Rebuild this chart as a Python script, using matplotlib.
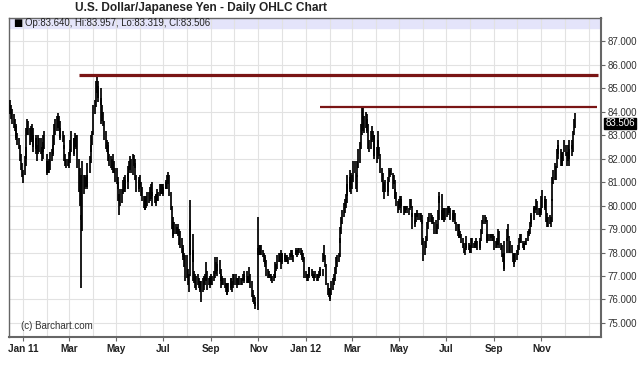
import numpy as np
import pandas as pd
import matplotlib
matplotlib.use("Agg")
import matplotlib.pyplot as plt
import matplotlib.dates as mdates
import matplotlib.transforms as mtransforms

plt.rcParams['font.family'] = ['Liberation Sans', 'DejaVu Sans']

# trading days shown on the chart
start_day = '2010-12-15'
end_day = '2012-12-14'

# daily lows, one line per month (Dec 2010 .. Dec 2012)
lows = [
    83.90, 83.70, 83.50, 83.30, 83.20, 82.90, 82.80, 82.60, 82.40, 81.90, 81.50, 81.20, 80.95,
    81.30, 81.70, 82.00, 83.00, 83.00, 82.60, 82.70, 82.80, 82.50, 82.30, 82.40, 82.20, 81.90, 82.20, 82.30, 82.20, 81.90, 82.00, 82.30, 82.40, 81.40,
    81.30, 81.40, 81.40, 81.50, 81.90, 82.10, 82.20, 82.60, 83.00, 83.20, 83.30, 83.20, 82.90, 82.80, 82.70, 82.40, 81.90, 81.70, 81.60, 81.70,
    81.60, 81.80, 82.10, 82.30, 82.10, 82.20, 82.50, 82.40, 81.60, 80.60, 80.00, 79.40, 76.50, 78.90, 80.50, 80.70, 80.80, 80.70, 80.80, 81.40, 81.80, 82.30, 82.60,
    83.00, 83.90, 84.20, 84.80, 84.60, 84.40, 84.30, 83.50, 83.60, 83.40, 82.80, 82.40, 82.30, 82.20, 81.90, 81.70, 81.60, 81.50, 81.40, 81.40, 81.00,
    80.90, 80.70, 80.20, 79.60, 80.00, 80.10, 80.50, 80.60, 80.70, 80.60, 80.70, 81.00, 81.40, 81.50, 81.40, 81.30, 81.70, 81.60, 81.10, 80.60, 80.70, 80.60,
    80.80, 80.40, 80.20, 79.90, 79.80, 79.80, 79.90, 80.00, 80.10, 80.20, 80.30, 80.40, 80.00, 80.10, 80.10, 80.00, 80.20, 80.20, 80.40, 80.50, 80.50, 80.40,
    80.50, 80.70, 80.70, 80.70, 80.90, 80.40, 79.80, 79.00, 78.70, 78.60, 78.80, 78.80, 78.80, 78.70, 78.30, 78.20, 78.00, 77.80, 77.70, 77.40, 76.80,
    76.90, 76.60, 76.30, 77.00, 77.90, 77.60, 76.80, 76.70, 76.50, 76.40, 76.60, 76.50, 76.40, 76.30, 75.90, 76.30, 76.40, 76.60, 76.80, 76.40, 76.60, 76.50, 76.60,
    76.60, 76.60, 76.80, 76.90, 77.10, 77.00, 77.20, 77.10, 76.80, 76.50, 76.60, 76.60, 76.50, 76.30, 76.20, 76.20, 76.30, 76.40, 76.50, 76.30, 76.50, 76.60,
    76.60, 76.50, 76.60, 76.60, 76.60, 76.60, 76.60, 76.80, 76.80, 76.70, 76.70, 76.70, 76.70, 76.70, 76.50, 76.10, 75.90, 75.80, 75.70, 75.60, 75.56,
    77.90, 77.90, 77.90, 77.90, 77.80, 77.60, 77.40, 77.50, 77.00, 76.90, 76.90, 76.90, 76.80, 76.70, 76.80, 76.90, 76.90, 77.20, 77.30, 77.60, 77.60, 77.30,
    77.50, 77.60, 77.70, 77.60, 77.60, 77.60, 77.50, 77.70, 77.80, 77.80, 77.70, 77.60, 77.90, 77.90, 77.80, 77.90, 78.00, 77.90, 77.80, 77.70, 77.60, 76.90,
    76.90, 76.80, 76.80, 76.90, 77.00, 77.00, 76.90, 76.90, 76.80, 76.90, 76.80, 76.80, 76.90, 77.00, 77.00, 77.00, 77.60, 77.70, 77.40, 76.60, 76.20, 76.10,
    75.95, 76.00, 76.20, 76.40, 76.60, 76.80, 77.10, 77.40, 77.60, 77.80, 78.40, 78.80, 79.20, 79.50, 79.70, 79.90, 80.10, 80.40, 80.70, 80.60, 80.50,
    80.70, 81.00, 81.40, 80.70, 80.60, 81.20, 81.60, 81.80, 82.40, 83.00, 83.20, 83.10, 83.30, 83.20, 83.10, 82.40, 82.30, 82.40, 82.70, 82.80, 82.10, 82.00,
    81.80, 82.00, 82.20, 82.10, 81.40, 81.00, 80.60, 80.30, 80.70, 80.60, 80.40, 80.60, 81.00, 81.20, 81.30, 80.70, 80.90, 80.30, 80.30, 80.00, 79.70,
    79.80, 79.90, 80.00, 79.70, 79.60, 79.70, 79.70, 79.80, 79.70, 79.60, 79.80, 79.90, 79.50, 79.00, 79.10, 79.20, 79.30, 79.50, 79.40, 79.40, 79.30, 79.20, 78.30,
    77.65, 77.90, 78.20, 78.50, 79.00, 79.30, 79.30, 79.30, 79.20, 79.20, 78.80, 78.80, 78.80, 79.00, 79.40, 80.10, 79.40, 79.40, 79.40, 79.30, 79.40,
    79.50, 79.60, 79.70, 79.70, 79.40, 79.40, 79.30, 79.40, 79.20, 78.90, 78.70, 78.60, 78.60, 78.60, 78.40, 78.20, 78.00, 77.90, 78.10, 78.20, 78.10, 78.00,
    78.00, 78.00, 78.20, 78.20, 78.20, 78.30, 78.20, 78.10, 78.10, 78.20, 78.50, 78.80, 79.20, 79.20, 79.30, 78.50, 78.40, 78.50, 78.50, 78.60, 78.50, 78.50, 78.10,
    78.20, 78.20, 78.30, 78.30, 78.20, 78.10, 77.80, 77.60, 77.20, 77.30, 78.00, 78.50, 78.60, 78.00, 78.00, 78.00, 77.60, 77.40, 77.50, 77.60,
    77.70, 77.90, 78.10, 78.40, 78.40, 78.20, 78.10, 78.10, 78.30, 78.30, 78.50, 78.70, 78.80, 79.10, 79.20, 79.40, 79.70, 79.70, 79.80, 79.60, 79.60, 79.50, 79.60,
    79.70, 79.90, 79.80, 79.90, 79.30, 79.10, 79.10, 79.20, 79.10, 79.30, 80.20, 80.90, 81.10, 81.10, 81.60, 82.20, 82.00, 81.70, 81.70, 81.70, 81.90, 82.30,
    82.10, 81.70, 81.90, 81.70, 82.00, 82.10, 82.40, 82.30, 83.00, 83.319,
]

# daily highs, same layout
highs = [
    84.50, 84.30, 84.10, 83.90, 83.70, 83.50, 83.40, 83.10, 82.90, 82.60, 82.20, 81.80, 81.50,
    82.10, 82.50, 83.30, 83.70, 83.60, 83.30, 83.40, 83.50, 83.30, 83.00, 83.00, 82.90, 82.60, 83.00, 82.90, 82.90, 82.50, 82.70, 83.00, 83.20, 82.20,
    81.90, 81.90, 82.00, 82.30, 82.40, 82.60, 83.00, 83.50, 83.70, 83.80, 83.95, 83.80, 83.60, 83.30, 83.20, 83.00, 82.60, 82.20, 82.00, 82.00,
    82.30, 82.40, 82.80, 83.20, 82.90, 82.90, 83.10, 83.00, 83.00, 82.00, 81.60, 81.30, 79.60, 81.90, 81.30, 81.30, 81.20, 81.30, 81.80, 82.10, 82.60, 83.00, 83.20,
    84.30, 84.50, 85.30, 85.55, 85.30, 85.10, 85.00, 84.60, 84.30, 84.00, 83.60, 83.20, 82.80, 82.70, 82.60, 82.20, 82.10, 82.00, 82.20, 81.90, 81.60,
    81.60, 81.20, 81.00, 80.50, 80.70, 80.70, 81.10, 81.20, 81.30, 81.10, 81.40, 81.70, 81.90, 82.10, 82.00, 82.20, 82.15, 82.00, 81.80, 81.30, 81.10, 81.20,
    81.30, 81.00, 80.80, 80.40, 80.30, 80.40, 80.40, 80.60, 80.60, 80.80, 80.90, 81.00, 80.60, 80.40, 80.50, 80.50, 80.70, 80.60, 80.90, 80.90, 80.90, 80.80,
    80.90, 81.00, 81.10, 81.30, 81.45, 81.30, 80.60, 80.00, 79.50, 79.30, 79.30, 79.20, 79.10, 79.20, 79.00, 78.90, 78.60, 78.30, 78.20, 78.00, 77.90,
    77.90, 77.30, 77.10, 80.24, 79.40, 78.80, 78.10, 77.20, 77.10, 77.00, 77.10, 76.90, 76.80, 76.80, 76.80, 76.90, 77.00, 77.10, 77.60, 77.20, 76.90, 77.00, 76.90,
    77.10, 77.00, 77.20, 77.80, 77.60, 77.50, 77.80, 77.70, 77.30, 77.10, 77.00, 76.90, 76.90, 76.70, 76.70, 76.70, 76.70, 76.90, 76.90, 76.80, 77.10, 77.10,
    77.10, 76.90, 76.90, 76.90, 77.00, 76.90, 76.90, 77.10, 77.10, 77.20, 77.20, 77.00, 77.00, 77.40, 77.10, 76.80, 76.40, 76.20, 76.10, 75.90, 79.53,
    78.20, 78.30, 78.30, 78.30, 78.10, 78.00, 77.90, 77.80, 77.70, 77.30, 77.20, 77.10, 77.10, 77.00, 77.10, 77.20, 77.60, 77.50, 77.90, 78.00, 78.00, 78.10,
    78.00, 78.00, 78.00, 77.90, 77.90, 77.90, 77.80, 78.00, 78.10, 78.10, 78.00, 77.90, 78.10, 78.20, 78.10, 78.20, 78.20, 78.20, 78.10, 78.00, 78.00, 77.80,
    77.20, 77.10, 77.10, 77.40, 77.40, 77.30, 77.20, 77.10, 77.10, 77.20, 77.10, 77.10, 77.20, 77.40, 77.30, 77.30, 78.00, 78.30, 77.90, 77.50, 76.70, 76.50,
    76.30, 76.50, 76.80, 76.90, 77.10, 77.40, 77.80, 77.90, 78.00, 78.60, 79.10, 79.50, 79.80, 80.10, 80.30, 80.50, 80.90, 81.30, 81.50, 81.20, 81.40,
    81.30, 81.90, 81.90, 81.40, 81.30, 81.90, 82.40, 82.70, 83.50, 84.20, 84.18, 83.80, 84.00, 83.90, 83.70, 83.50, 82.80, 83.20, 83.40, 83.20, 83.00, 83.00,
    82.50, 83.20, 82.80, 82.50, 82.20, 81.60, 81.40, 80.90, 81.00, 81.10, 81.00, 81.20, 81.60, 81.50, 81.60, 81.40, 81.30, 81.10, 80.70, 80.60, 80.20,
    80.30, 80.40, 80.40, 80.30, 80.00, 80.00, 80.00, 80.00, 80.00, 79.90, 80.30, 80.30, 80.00, 79.70, 79.40, 79.70, 79.70, 79.80, 79.70, 79.70, 79.70, 79.60, 79.40,
    78.60, 78.50, 78.70, 79.30, 79.50, 79.70, 79.70, 79.60, 79.50, 79.50, 79.30, 79.40, 79.20, 79.80, 80.40, 80.60, 80.50, 79.80, 79.90, 79.90, 79.90,
    79.90, 80.00, 79.90, 80.00, 79.90, 79.80, 79.70, 79.80, 79.70, 79.30, 79.20, 79.20, 79.00, 78.90, 78.80, 78.60, 78.40, 78.20, 78.40, 78.70, 78.40, 78.30,
    78.30, 78.60, 78.60, 78.40, 78.50, 78.60, 78.50, 78.50, 78.50, 78.60, 79.00, 79.40, 79.60, 79.60, 79.50, 79.40, 78.80, 78.80, 78.80, 78.80, 78.80, 78.80, 78.70,
    78.50, 78.50, 78.60, 79.00, 78.90, 78.40, 78.30, 78.00, 78.00, 78.50, 78.60, 79.00, 79.20, 78.70, 78.50, 78.30, 78.00, 77.90, 78.00, 78.00,
    78.10, 78.30, 78.60, 78.80, 78.80, 78.50, 78.40, 78.40, 78.50, 78.60, 78.90, 79.00, 79.30, 79.60, 79.70, 79.90, 80.00, 80.00, 80.30, 80.20, 79.90, 79.90, 79.90,
    80.40, 80.67, 80.30, 80.40, 80.30, 79.70, 79.50, 79.60, 79.50, 80.30, 81.20, 81.50, 81.80, 81.70, 82.40, 82.80, 82.60, 82.40, 82.10, 82.30, 82.30, 82.80,
    82.60, 82.30, 82.60, 82.40, 82.80, 82.60, 82.80, 83.20, 83.70, 83.957,
]

last_open, last_high, last_low, last_close = 83.640, 83.957, 83.319, 83.506

# resistance lines drawn on the chart
res_levels = [85.55, 84.21]
res_start = ['2011-03-14', '2012-01-19']
res_end = ['2013-01-13', '2013-01-12']
res_width = [2.3, 1.6]

tick_dates = ['2011-01-01', '2011-03-01', '2011-05-01', '2011-07-01', '2011-09-01', '2011-11-01',
              '2012-01-01', '2012-03-01', '2012-05-01', '2012-07-01', '2012-09-01', '2012-11-01']
tick_labels = ['Jan 11', 'Mar', 'May', 'Jul', 'Sep', 'Nov', 'Jan 12', 'Mar', 'May', 'Jul', 'Sep', 'Nov']
y_ticks = list(range(75, 88))

dates = pd.bdate_range(start_day, end_day)
n = min(len(dates), len(lows), len(highs))
dates = dates[:n]

fig = plt.figure(figsize=(6.4, 3.75), dpi=100)
W, H = 640, 375
left, right, top, bottom = 9, 601, 17.5, 336.7
ax = fig.add_axes([left / W, (H - bottom) / H, (right - left) / W, (bottom - top) / H])

# header band
ax.axhspan(87.57, 88.02, color='#e4e4fa', zorder=0)

# ticks and grid
ax.set_xticks(mdates.date2num(pd.to_datetime(tick_dates)))
ax.set_xticklabels(tick_labels)
ax.set_xticks(mdates.date2num(pd.date_range('2010-12-01', '2013-01-01', freq='MS')), minor=True)
ax.set_yticks(y_ticks)
ax.set_yticklabels(['%.3f' % v for v in y_ticks])
ax.grid(True, which='both', axis='x', color='#e2e2e2', lw=0.8, zorder=1)
ax.grid(True, which='major', axis='y', color='#e2e2e2', lw=0.8, zorder=1)
ax.set_axisbelow(True)

# OHLC bars
ax.vlines(mdates.date2num(dates), np.array(lows[:n]), np.array(highs[:n]), color='black', lw=1.25, zorder=3)

# resistance lines
for lvl, s, e, w in zip(res_levels, res_start, res_end, res_width):
    ax.hlines(lvl, mdates.date2num(pd.Timestamp(s)), mdates.date2num(pd.Timestamp(e)),
              color='#7a1515', lw=w, zorder=4)

# limits last, after ticks have been placed
ax.set_xlim(mdates.date2num(pd.Timestamp('2010-12-13 12:00')), mdates.date2num(pd.Timestamp('2013-01-17')))
ax.set_ylim(74.41, 88.02)

# axes styling
ax.yaxis.tick_right()
ax.tick_params(axis='y', which='major', length=3, width=0.8, color='#666666', pad=1.5,
               labelsize=7, labelcolor='#333333')
ax.tick_params(axis='x', which='major', length=3, width=0.8, color='#666666', pad=2,
               labelsize=7.2, labelcolor='#222222')
ax.tick_params(axis='x', which='minor', length=0)
for lab in ax.get_xticklabels():
    lab.set_fontweight('bold')
for side in ['left', 'right', 'top', 'bottom']:
    ax.spines[side].set_color('#666666')
    ax.spines[side].set_linewidth(1.0)
ax.spines['bottom'].set_linewidth(1.5)
ax.spines['right'].set_linewidth(1.5)

blend = mtransforms.blended_transform_factory(ax.transAxes, ax.transData)

# header text
ax.text(0.007, 87.79, '\u25a0', transform=blend, fontsize=7, va='center', ha='left',
        color='black', family=['DejaVu Sans'])
ax.text(0.027, 87.79, 'Op:%.3f, Hi:%.3f, Lo:%.3f, Cl:%.3f' % (last_open, last_high, last_low, last_close),
        transform=blend, fontsize=6.9, va='center', ha='left', color='#222222')

# last value box
ax.text(1.007, last_close, '%.3f' % last_close, transform=blend,
        fontsize=7, va='center', ha='left', color='white',
        bbox=dict(boxstyle='square,pad=0.08', fc='black', ec='black'))

ax.text(0.02, 0.034, '(c) Barchart.com', transform=ax.transAxes, fontsize=7, color='#333333',
        va='center', ha='left')

fig.text(75 / W, 1 - 7.5 / H, 'U.S. Dollar/Japanese Yen - Daily OHLC Chart', fontsize=8.6,
         fontweight='bold', color='#222222', ha='left', va='center')

fig.savefig('out.png', dpi=100)
